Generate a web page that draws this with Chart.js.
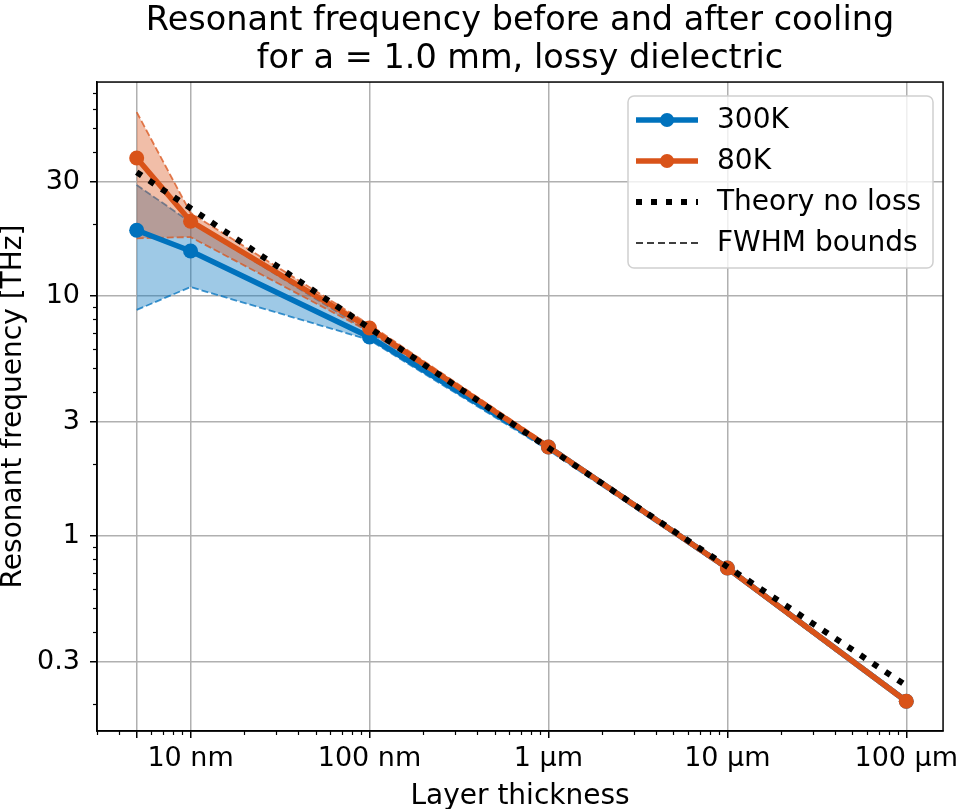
<!DOCTYPE html>
<html>
<head>
<meta charset="utf-8">
<script src="https://cdn.jsdelivr.net/npm/chart.js@4.4.1/dist/chart.umd.min.js"></script>
<style>
  html, body { margin: 0; padding: 0; background: #fff; }
  #wrap { width: 964px; height: 809px; }
</style>
</head>
<body>
<div id="wrap"><canvas id="freqChart"></canvas></div>
<script>
// layer thickness in nm
var thickness = [5, 10, 100, 1000, 10000, 100000];
var f300 = [18.8, 15.4, 6.75, 2.35, 0.736, 0.205];
var f80 = [37.6, 20.5, 7.36, 2.35, 0.736, 0.205];
var theory = [32.8, 23.2, 7.35, 2.33, 0.745, 0.238];
var upper300 = [29.0, 20.3, 7.1, 2.4, 0.75, 0.21];
var lower300 = [8.75, 10.9, 6.56, 2.28, 0.72, 0.2];
var upper80 = [58.4, 22.2, 7.6, 2.4, 0.75, 0.21];
var lower80 = [17.4, 17.6, 7.1, 2.3, 0.72, 0.2];

var xTicks = [5, 10, 100, 1000, 10000, 100000];
var xTickLabels = ['', '10 nm', '100 nm', '1 µm', '10 µm', '100 µm'];
var yTicks = [0.3, 1, 3, 10, 30];
var yTickLabels = ['0.3', '1', '3', '10', '30'];

var BLUE = '#0072BD';
var ORANGE = '#D95319';
var FONT = 'DejaVu Sans';

function pts(ys) {
    return thickness.map(function (x, i) { return { x: x, y: ys[i] }; });
}

// minor ticks at 2..9 x 10^k that are not major ticks
function minorValues(min, max, majors) {
    var out = [];
    for (var e = Math.floor(Math.log10(min)) ; e <= Math.ceil(Math.log10(max)); e++) {
        for (var n = 1; n < 10; n++) {
            var v = n * Math.pow(10, e);
            if (v < min || v > max) continue;
            if (majors.some(function (m) { return Math.abs(m - v) / v < 1e-6; })) continue;
            out.push(v);
        }
    }
    return out;
}

var framePlugin = {
    id: 'frame',
    afterDraw: function (chart) {
        var ctx = chart.ctx, a = chart.chartArea;
        var xs = chart.scales.x, ys = chart.scales.y;
        ctx.save();
        ctx.strokeStyle = '#000';
        ctx.lineWidth = 1.2;
        minorValues(xs.min, xs.max, xTicks).forEach(function (v) {
            var px = Math.round(xs.getPixelForValue(v)) + 0.5;
            ctx.beginPath(); ctx.moveTo(px, a.bottom); ctx.lineTo(px, a.bottom + 4); ctx.stroke();
        });
        minorValues(ys.min, ys.max, yTicks).forEach(function (v) {
            var py = Math.round(ys.getPixelForValue(v)) + 0.5;
            ctx.beginPath(); ctx.moveTo(a.left, py); ctx.lineTo(a.left - 4, py); ctx.stroke();
        });
        ctx.lineWidth = 1.5;
        ctx.strokeRect(a.left, a.top, a.right - a.left, a.bottom - a.top);

        // legend
        var lx = 628, ly = 96, lw = 305, lh = 172, r = 6;
        ctx.beginPath();
        ctx.roundRect(lx, ly, lw, lh, r);
        ctx.fillStyle = 'rgba(255,255,255,0.8)';
        ctx.fill();
        ctx.strokeStyle = '#d0d0d0';
        ctx.lineWidth = 1.5;
        ctx.stroke();

        var items = [
            { label: chart.data.datasets[2].label, color: BLUE, width: 5.5, dash: [], dot: true },
            { label: chart.data.datasets[1].label, color: ORANGE, width: 5.5, dash: [], dot: true },
            { label: chart.data.datasets[0].label, color: '#000', width: 6, dash: [6, 9], dot: false },
            { label: chart.data.datasets[3].label, color: '#000', width: 1.6, dash: [7, 4], dot: false }
        ];
        var rowY = [120, 161, 202, 243];
        ctx.font = '28px "' + FONT + '"';
        ctx.textBaseline = 'middle';
        ctx.textAlign = 'left';
        items.forEach(function (it, i) {
            var y = rowY[i];
            ctx.strokeStyle = it.color;
            ctx.lineWidth = it.width;
            ctx.setLineDash(it.dash);
            ctx.beginPath(); ctx.moveTo(636, y); ctx.lineTo(698, y); ctx.stroke();
            ctx.setLineDash([]);
            if (it.dot) {
                ctx.fillStyle = it.color;
                ctx.beginPath(); ctx.arc(667, y, 7, 0, Math.PI * 2); ctx.fill();
            }
            ctx.fillStyle = '#000';
            ctx.fillText(it.label, 717, y + 1);
        });
        ctx.restore();
    }
};

var ctx = document.getElementById('freqChart').getContext('2d');
var freqChart = new Chart(ctx, {
    type: 'line',
    data: {
        datasets: [
            {
                label: 'Theory no loss',
                data: pts(theory),
                borderColor: '#000',
                borderWidth: 6,
                borderDash: [6, 9],
                borderCapStyle: 'butt',
                pointRadius: 0,
                fill: false,
                order: 0
            },
            {
                label: '80K',
                data: pts(f80),
                borderColor: ORANGE,
                backgroundColor: ORANGE,
                borderWidth: 5.5,
                pointRadius: 7.5,
                pointBorderWidth: 0,
                fill: false,
                order: 1
            },
            {
                label: '300K',
                data: pts(f300),
                borderColor: BLUE,
                backgroundColor: BLUE,
                borderWidth: 5.5,
                pointRadius: 7.5,
                pointBorderWidth: 0,
                fill: false,
                order: 2
            },
            {
                label: 'FWHM bounds',
                data: pts(upper80),
                borderColor: 'rgba(217,83,25,0.75)',
                borderWidth: 1.8,
                borderDash: [7, 3],
                pointRadius: 0,
                fill: false,
                order: 3
            },
            {
                label: 'FWHM bounds 80K low',
                data: pts(lower80),
                borderColor: 'rgba(217,83,25,0.75)',
                backgroundColor: 'rgba(217,83,25,0.38)',
                borderWidth: 1.8,
                borderDash: [7, 3],
                pointRadius: 0,
                fill: 3,
                order: 4
            },
            {
                label: 'FWHM bounds 300K high',
                data: pts(upper300),
                borderColor: 'rgba(0,114,189,0.75)',
                borderWidth: 1.8,
                borderDash: [7, 3],
                pointRadius: 0,
                fill: false,
                order: 5
            },
            {
                label: 'FWHM bounds 300K low',
                data: pts(lower300),
                borderColor: 'rgba(0,114,189,0.75)',
                backgroundColor: 'rgba(0,114,189,0.38)',
                borderWidth: 1.8,
                borderDash: [7, 3],
                pointRadius: 0,
                fill: 5,
                order: 6
            }
        ]
    },
    options: {
        responsive: true,
        maintainAspectRatio: false,
        animation: false,
        layout: { padding: { left: 0, right: 16, top: 0, bottom: 0 } },
        plugins: {
            legend: { display: false },
            tooltip: { enabled: false },
            title: {
                display: true,
                fullSize: false,
                text: ['Resonant frequency before and after cooling', 'for a = 1.0 mm, lossy dielectric'],
                color: '#000',
                font: { family: FONT, size: 33.5, weight: 'normal', lineHeight: 1.12 },
                padding: { top: 3, bottom: 4 }
            }
        },
        scales: {
            x: {
                type: 'logarithmic',
                min: 3.0,
                max: 160500,
                afterBuildTicks: function (scale) {
                    scale.ticks = xTicks.map(function (v) { return { value: v }; });
                },
                afterFit: function (scale) { scale.height = 78; },
                ticks: {
                    autoSkip: false,
                    maxRotation: 0,
                    color: '#000',
                    padding: 5,
                    font: { family: FONT, size: 27 },
                    callback: function (value) {
                        return xTickLabels[xTicks.indexOf(value)];
                    }
                },
                grid: { color: '#b0b0b0', lineWidth: 1.5, tickColor: '#000', tickLength: 7, tickWidth: 1.5 },
                border: { color: '#000', width: 1.5 },
                title: {
                    display: true,
                    text: 'Layer thickness',
                    color: '#000',
                    font: { family: FONT, size: 28, lineHeight: 0.85 },
                    padding: 0
                }
            },
            y: {
                type: 'logarithmic',
                min: 0.154,
                max: 77.9,
                afterBuildTicks: function (scale) {
                    scale.ticks = yTicks.map(function (v) { return { value: v }; });
                },
                afterFit: function (scale) { scale.width = 97; },
                ticks: {
                    autoSkip: false,
                    color: '#000',
                    padding: 10,
                    font: { family: FONT, size: 27 },
                    callback: function (value) {
                        return yTickLabels[yTicks.indexOf(value)];
                    }
                },
                grid: { color: '#b0b0b0', lineWidth: 1.5, tickColor: '#000', tickLength: 7, tickWidth: 1.5 },
                border: { color: '#000', width: 1.5 },
                title: {
                    display: true,
                    text: 'Resonant frequency [THz]',
                    color: '#000',
                    font: { family: FONT, size: 28, lineHeight: 0.96 },
                    padding: 0
                }
            }
        }
    },
    plugins: [framePlugin]
});
</script>
</body>
</html>
